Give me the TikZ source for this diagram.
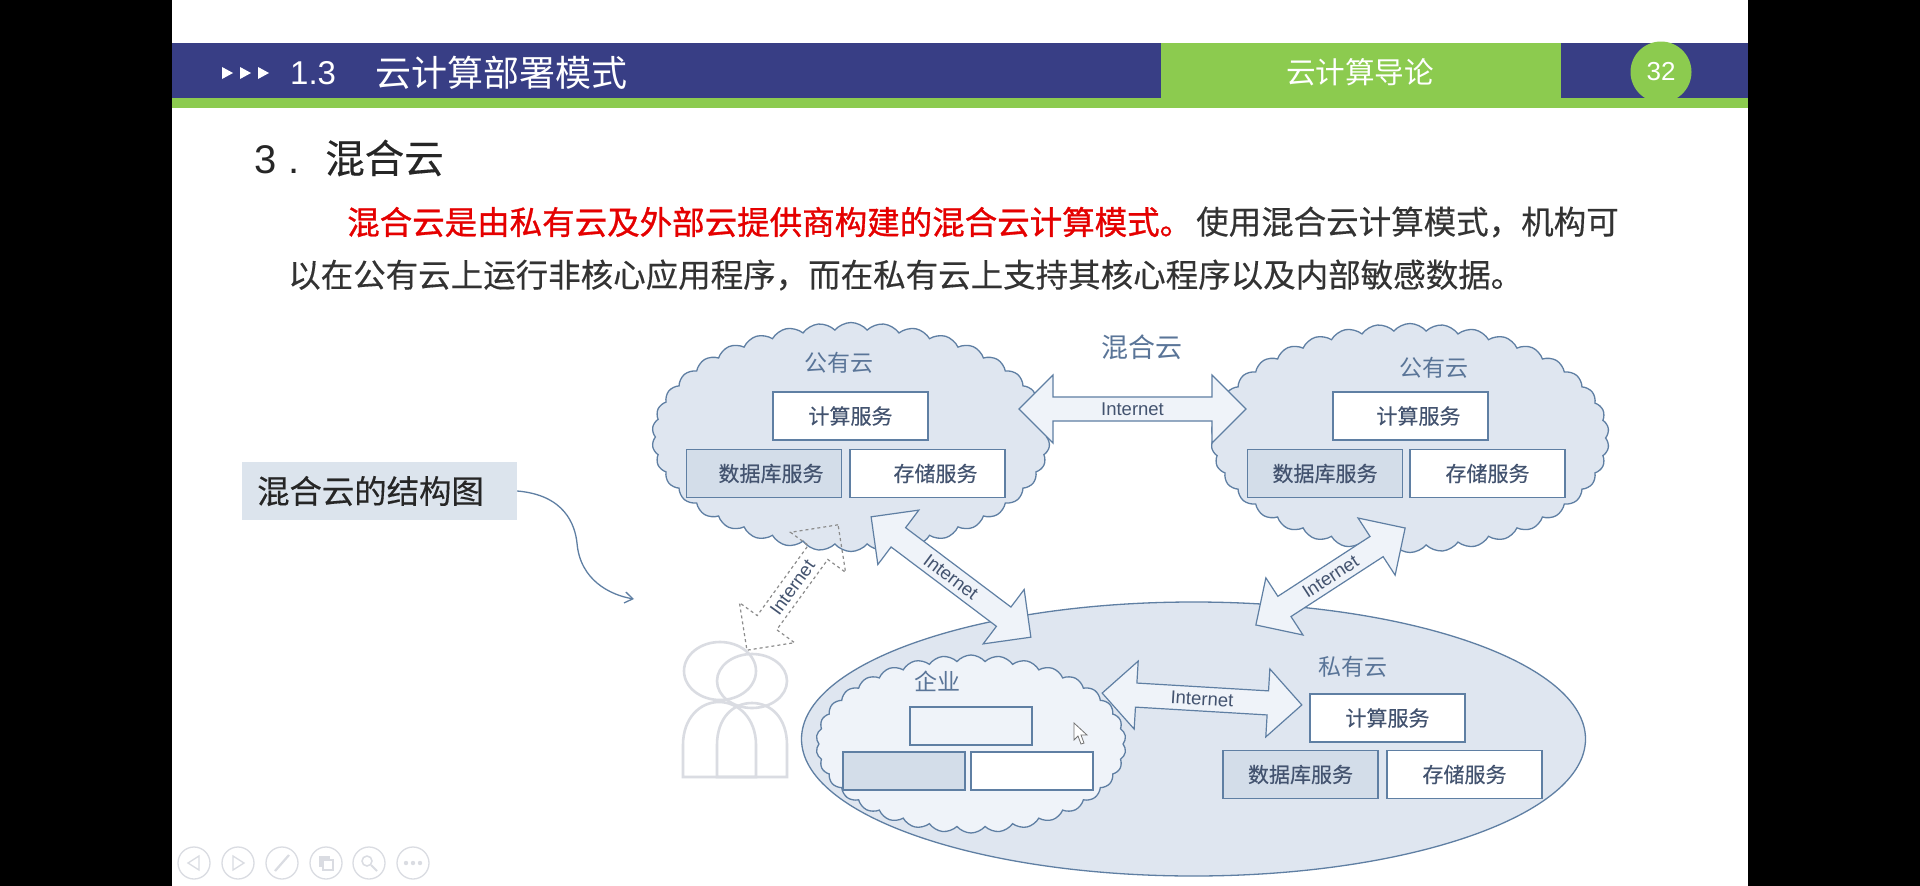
\documentclass[tikz,border=0pt]{standalone}
\usepackage{fontspec}
\setmainfont{Liberation Sans}
\newfontfamily\cjk{Noto Sans CJK SC}
\newfontfamily\cjkheavy[FakeBold=0.3]{Noto Sans CJK SC}
\newfontfamily\cjkred[FakeBold=0.9]{Noto Sans CJK SC}
\usetikzlibrary{shapes.geometric,shapes.symbols,shapes.arrows,arrows.meta}
\newcommand{\fsize}[1]{\fontsize{#1}{#1}\selectfont}
\definecolor{navybar}{HTML}{383E85}
\definecolor{greenbar}{HTML}{8CCB4F}
\definecolor{linkblue}{HTML}{5F7FA3}
\definecolor{cloudfill}{HTML}{DFE6F0}
\definecolor{palefill}{HTML}{EFF3F9}
\definecolor{dbfill}{HTML}{D3DDE9}
\definecolor{serviceink}{HTML}{43536F}
\definecolor{titleink}{HTML}{5A7598}
\definecolor{iconline}{HTML}{DADCE2}
\begin{document}
\begin{tikzpicture}[x=1pt, y=-1pt,
		pubcloud/.style={shape=cloud, draw=linkblue, fill=cloudfill, line width=1.3pt, inner sep=0pt, cloud puffs=38, cloud puff arc=100, aspect=1.74, minimum width=398pt, minimum height=229pt},
		servtext/.style={inner sep=0pt, text=serviceink, font=\cjkheavy\fsize{21}},
		service/.style={draw=linkblue, line width=1.5pt, fill=white, inner sep=0pt, text=serviceink, font=\cjkheavy\fsize{21}, minimum width=155pt, minimum height=48pt},
		dbservice/.style={service, fill=dbfill},
		smallbox/.style={service, minimum width=122pt, minimum height=38pt},
		title/.style={inner sep=0pt, text=titleink, font=\cjk\fsize{23}},
		link/.style={shape=double arrow, draw=linkblue, fill=palefill, line width=1.2pt, double arrow head extend=22pt, minimum width=67pt, inner xsep=0pt, inner ysep=5pt, text=serviceink, font=\fsize{18.5}},
		para/.style={anchor=west, inner sep=0pt, font=\cjkheavy\fsize{32.5}},
		button/.style={circle, draw=iconline, line width=1.3pt, minimum size=32pt, inner sep=0pt},
		person/.style={draw=iconline, line width=2.6pt}]

	\useasboundingbox (0,0) rectangle (1920,886);
	\fill[white] (0,0) rectangle (1920,886);
	\fill[black] (0,0) rectangle (172,886);
	\fill[black] (1748,0) rectangle (1920,886);

	% header
	\fill[navybar] (172,43) rectangle (1748,98);
	\fill[greenbar] (172,98) rectangle (1748,108);
	\fill[greenbar] (1161,43) rectangle (1561,108);
	\node[circle, fill=greenbar, minimum size=61pt, inner sep=0pt, text=white, font=\fsize{26}] (page) at (1661,72) {32};
	\foreach \x in {222,240,258}
		\fill[white] (\x,67) -- (\x+11,73) -- (\x,79) -- cycle;
	\node[anchor=west, inner sep=0pt, text=white, font=\fsize{33}] (sec) at (290,73) {1.3};
	\node[anchor=west, inner sep=0pt, text=white, font=\cjk\fsize{36}] (sectitle) at (375,73) {云计算部署模式};
	\node[inner sep=0pt, text=white, font=\cjk\fsize{29.6}] (course) at (1360,72) {云计算导论};

	% text
	\node[anchor=base west, inner sep=0pt, text=black!85, font=\fsize{40}] (num) at (254,173) {3};
	\node[anchor=base west, inner sep=0pt, text=black!85, font=\fsize{40}] (dot) at (288,173) {.};
	\node[anchor=west, inner sep=0pt, text=black!85, font=\cjkheavy\fsize{39.5}] (head) at (325,158) {混合云};
	\node[para, text=red!90!black, font=\cjkred\fsize{32.5}] (red) at (347,222) {混合云是由私有云及外部云提供商构建的混合云计算模式。};
	\node[para, text=black!80] (line1) at (1196,222) {使用混合云计算模式，机构可};
	\node[para, text=black!80] (line2) at (288,275) {以在公有云上运行非核心应用程序，而在私有云上支持其核心程序以及内部敏感数据。};

	\node[fill=dbfill!80!white, minimum width=275pt, minimum height=58pt, inner sep=0pt] (note) at (379.5,491) {};
	\node[inner sep=0pt, font=\cjkheavy\fsize{32.4}, text=black!85] (notetext) at ([xshift=-9pt]note.center) {混合云的结构图};
	\coordinate (notetip) at (634,599);
	\draw[linkblue, line width=1.3pt, -{Straight Barb[length=8pt,width=11pt]}] (note.east) .. controls (565,495) and (575,525) .. (577,543) .. controls (580,580) and (610,595) .. (notetip);

	% private cloud and clouds
	\node[ellipse, draw=linkblue, fill=cloudfill, line width=1.3pt, minimum width=784pt, minimum height=274pt, inner sep=0pt] (private) at (1193.5,739) {};
	\node[pubcloud] (pub1) at (851,437) {};
	\node[pubcloud] (pub2) at (1410,438) {};
	\node[pubcloud, fill=palefill, minimum width=310pt, minimum height=178pt, cloud puffs=34] (firm) at (971,744) {};

	\node[title] (pub1t) at (839,363) {公有云};
	\node[service] (pub1c) at (850.5,416) {计算服务};
	\node[dbservice] (pub1d) at (764,473.5) {};
	\node[servtext] (pub1dt) at ([xshift=7pt]pub1d.center) {数据库服务};
	\node[service] (pub1s) at (927.5,473.5) {};
	\node[servtext] (pub1st) at ([xshift=8pt]pub1s.center) {存储服务};

	\node[title] (pub2t) at (1434,368) {公有云};
	\node[service] (pub2c) at (1410.5,416) {};
	\node[servtext] (pub2ct) at ([xshift=8pt]pub2c.center) {计算服务};
	\node[dbservice] (pub2d) at (1325,473.5) {数据库服务};
	\node[service] (pub2s) at (1487.5,473.5) {存储服务};

	\node[title] (firmt) at (937,681) {企业};
	\node[smallbox, fill=palefill] (firmc) at (971,726) {};
	\node[smallbox, fill=dbfill] (firmd) at (904,771) {};
	\node[smallbox] (firms) at (1032,771) {};

	\node[title] (privt) at (1353,667) {私有云};
	\node[service] (privc) at (1387.5,718) {计算服务};
	\node[dbservice] (privd) at (1300.5,774.5) {数据库服务};
	\node[service] (privs) at (1464.5,774.5) {存储服务};

	\node[inner sep=0pt, text=titleink, font=\cjk\fsize{27}] (mixed) at (1142,347) {混合云};

	% links
	\node[link, minimum height=227pt] (l1) at (1132.5,409) {Internet};
	\node[link, minimum height=200pt, rotate=-37] (l2) at (951,577) {Internet};
	\node[link, minimum height=178pt, rotate=33] (l3) at (1330.5,576.5) {Internet};
	\node[link, minimum height=200pt, rotate=-3.4] (l4) at (1202,699) {Internet};
	\node[link, draw=black!45, dashed, fill=none, minimum height=155pt, rotate=54] (l5) at (792.5,587.5) {Internet};

	% users
	\draw[person] (720,671) ellipse (36pt and 29pt);
	\draw[person] (752,681) ellipse (35pt and 27pt);
	\draw[person] (683,777) -- (683,745) .. controls (683,718) and (700,702) .. (719,702) .. controls (738,702) and (756,718) .. (756,745) -- (756,777) -- cycle;
	\draw[person] (717,777) -- (717,745) .. controls (717,718) and (733,703) .. (752,703) .. controls (771,703) and (787,718) .. (787,745) -- (787,777) -- cycle;

	% cursor
	\draw[black!55, fill=white, line width=0.8pt] (1074,723) -- (1074,740) -- (1078,736) -- (1081,744) -- (1084,743) -- (1081,735) -- (1087,735) -- cycle;

	% buttons
	\foreach \name/\x in {b1/194,b2/238,b3/282,b4/326,b5/369,b6/413}
		\node[button] (\name) at (\x,863) {};
	\draw[iconline, line width=1.3pt] (199,856) -- (188,863) -- (199,870) -- cycle;
	\draw[iconline, line width=1.3pt] (233,856) -- (244,863) -- (233,870) -- cycle;
	\draw[iconline, line width=2.2pt] (275,871) -- (289,855);
	\draw[iconline, fill=iconline] (319,856) rectangle (329,866);
	\draw[iconline, line width=1.3pt, fill=white] (323,860) rectangle (333,870);
	\draw[iconline, line width=1.5pt] (367,861) circle (5pt);
	\draw[iconline, line width=2pt] (371,865) -- (377,871);
	\foreach \x in {406,413,420}
		\fill[iconline] (\x,863) circle (2.2pt);
\end{tikzpicture}
\end{document}
